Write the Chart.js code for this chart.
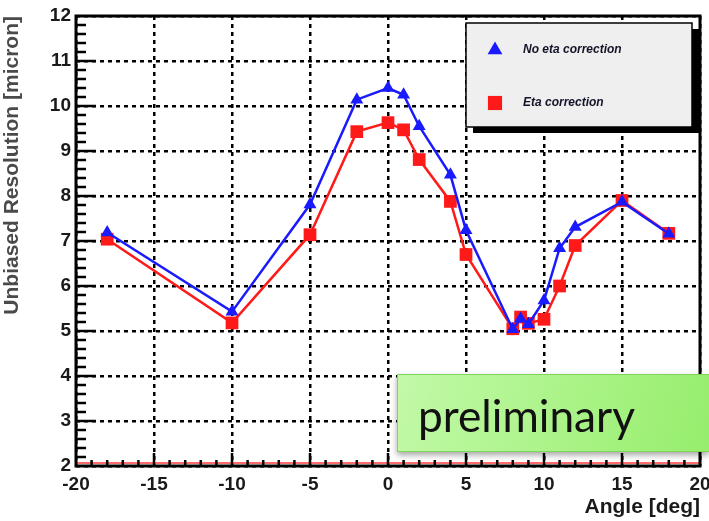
<!DOCTYPE html>
<html>
<head>
<meta charset="utf-8">
<script src="https://cdn.jsdelivr.net/npm/chart.js@4.4.1/dist/chart.umd.min.js"></script>
<style>
  html, body { margin: 0; padding: 0; background: #fff; }
  #chart { display: block; }
</style>
</head>
<body>
<canvas id="chart" width="709" height="521"></canvas>
<script>
// angle scan, resolution in micron
const angles   = [-18, -10, -5, -2, 0, 1, 2, 4, 5, 8, 8.5, 9, 10, 11, 12, 15, 18];
const noEtaRes = [7.19, 5.43, 7.81, 10.14, 10.40, 10.25, 9.55, 8.47, 7.24, 5.04, 5.27, 5.15, 5.68, 6.84, 7.31, 7.87, 7.16];
const etaRes   = [7.04, 5.18, 7.14, 9.43, 9.63, 9.47, 8.81, 7.88, 6.70, 5.05, 5.31, 5.17, 5.26, 6.00, 6.90, 7.90, 7.17];

const seriesLabels = ["No eta correction", "Eta correction"];
const xTitle = "Angle [deg]";
const yTitle = "Unbiased Resolution [micron]";
const stampText = "preliminary";

const BLUE = "#1a1aff";
const RED = "#ff1a1a";
const tickFont = { family: "'Liberation Sans', Arial, sans-serif", size: 19, weight: "bold" };

const toPoints = vals => angles.map((a, i) => ({ x: a, y: vals[i] }));

function line(ctx, x1, y1, x2, y2) {
    ctx.beginPath();
    ctx.moveTo(x1, y1);
    ctx.lineTo(x2, y2);
    ctx.stroke();
}

function marker(ctx, style, x, y, r, color) {
    ctx.fillStyle = color;
    ctx.beginPath();
    if (style === "triangle") {
        ctx.moveTo(x, y - r);
        ctx.lineTo(x + r * 0.87, y + r * 0.5);
        ctx.lineTo(x - r * 0.87, y + r * 0.5);
        ctx.closePath();
    } else {
        const s = r * Math.SQRT1_2;
        ctx.rect(x - s, y - s, 2 * s, 2 * s);
    }
    ctx.fill();
}

// ROOT-like frame: inward ticks, thick box, red baseline
const rootFrame = {
    id: "rootFrame",
    beforeDatasetsDraw(chart) {
        const { ctx, chartArea: a, scales: { x, y } } = chart;
        ctx.save();
        ctx.strokeStyle = "#ff6a6a";
        ctx.lineWidth = 2;
        line(ctx, a.left, a.bottom - 3, a.right, a.bottom - 3);

        ctx.strokeStyle = "#000";
        ctx.lineWidth = 2.5;
        for (let v = x.min + 1; v < x.max; v++) {
            const px = x.getPixelForValue(v);
            line(ctx, px, a.bottom, px, a.bottom - (v % 5 === 0 ? 13 : 6));
        }
        for (let k = 1; k < (y.max - y.min) * 5; k++) {
            const py = y.getPixelForValue(y.min + k * 0.2);
            line(ctx, a.left, py, a.left + (k % 5 === 0 ? 20 : 10), py);
        }
        ctx.lineWidth = 3;
        ctx.strokeRect(a.left, a.top, a.right - a.left, a.bottom - a.top);
        ctx.restore();
    },
    afterDraw(chart) {
        const { ctx, chartArea: a } = chart;
        ctx.save();

        // legend box with ROOT shadow
        const lw = 226, lh = 104;
        const lx = a.right - lw - 8, ly = a.top + 7;
        ctx.fillStyle = "#000";
        ctx.fillRect(lx + 7, ly + 6, lw, lh);
        ctx.fillStyle = "#efefef";
        ctx.fillRect(lx, ly, lw, lh);
        ctx.strokeStyle = "#000";
        ctx.lineWidth = 1.5;
        ctx.strokeRect(lx, ly, lw, lh);

        ctx.font = "italic bold 12px 'Liberation Sans', Arial, sans-serif";
        ctx.textBaseline = "middle";
        chart.data.datasets.forEach((ds, i) => {
            const ey = ly + 27 + i * 53;
            marker(ctx, ds.pointStyle, lx + 29, ey, i === 0 ? 8.5 : 10, ds.borderColor);
            ctx.fillStyle = "#141428";
            ctx.fillText(ds.label, lx + 57, ey);
        });

        // "preliminary" stamp
        const bx = a.left + 321, by = a.bottom - 92, bw = chart.width - bx, bh = 78;
        ctx.save();
        ctx.shadowColor = "rgba(0,0,0,0.35)";
        ctx.shadowBlur = 6;
        ctx.shadowOffsetY = 3;
        const g = ctx.createLinearGradient(bx, by, bx + bw, by + bh);
        g.addColorStop(0, "#c2f9a8");
        g.addColorStop(1, "#96ee6c");
        ctx.fillStyle = g;
        ctx.fillRect(bx, by, bw, bh);
        ctx.restore();
        ctx.strokeStyle = "#7fd65a";
        ctx.lineWidth = 1;
        ctx.strokeRect(bx + 0.5, by + 0.5, bw, bh - 1);

        ctx.font = "100px Lato, 'Open Sans', sans-serif";
        const size = 100 * 217 / ctx.measureText(stampText).width;
        ctx.font = `${size}px Lato, 'Open Sans', sans-serif`;
        ctx.fillStyle = "#111";
        ctx.textBaseline = "alphabetic";
        ctx.fillText(stampText, bx + 21, by + 58);
        ctx.restore();
    }
};

const fixBox = size => scale => {
    if (scale.isHorizontal()) scale.height = size; else scale.width = size;
    scale.paddingLeft = scale.paddingRight = scale.paddingTop = scale.paddingBottom = 0;
};

new Chart(document.getElementById("chart"), {
    type: "scatter",
    data: {
        datasets: [
            {
                label: seriesLabels[0],
                data: toPoints(noEtaRes),
                showLine: true,
                borderColor: BLUE,
                backgroundColor: BLUE,
                borderWidth: 2.5,
                pointStyle: "triangle",
                pointRadius: 7.5,
                pointBorderWidth: 0
            },
            {
                label: seriesLabels[1],
                data: toPoints(etaRes),
                showLine: true,
                borderColor: RED,
                backgroundColor: RED,
                borderWidth: 2.5,
                pointStyle: "rect",
                pointRadius: 9,
                pointBorderWidth: 0
            }
        ]
    },
    options: {
        responsive: false,
        animation: false,
        layout: { padding: { top: 16, right: 8, left: 0, bottom: 0 } },
        plugins: { legend: { display: false }, tooltip: { enabled: false } },
        scales: {
            x: {
                type: "linear",
                min: -20,
                max: 20,
                afterFit: fixBox(55),
                ticks: { stepSize: 5, autoSkip: false, maxRotation: 0, padding: 7, color: "#1a1a1a", font: tickFont },
                grid: { color: "#000", lineWidth: 2.5, drawTicks: false },
                border: { display: false, dash: [4, 4] },
                title: {
                    display: true, text: xTitle, align: "end", color: "#1a1a1a",
                    font: { family: "'Liberation Sans', Arial, sans-serif", size: 21, weight: "bold" },
                    padding: { top: 0, bottom: 1 }
                }
            },
            y: {
                type: "linear",
                min: 2,
                max: 12,
                afterFit: fixBox(76),
                ticks: { stepSize: 1, autoSkip: false, padding: 5, color: "#1a1a1a", font: tickFont },
                grid: { color: "#000", lineWidth: 2.5, drawTicks: false },
                border: { display: false, dash: [4, 4] },
                title: {
                    display: true, text: yTitle, align: "end", color: "#4a4a4a",
                    font: { family: "'Liberation Sans', Arial, sans-serif", size: 21, weight: "bold" },
                    padding: { top: 0, bottom: 12 }
                }
            }
        }
    },
    plugins: [rootFrame]
});
</script>
</body>
</html>
